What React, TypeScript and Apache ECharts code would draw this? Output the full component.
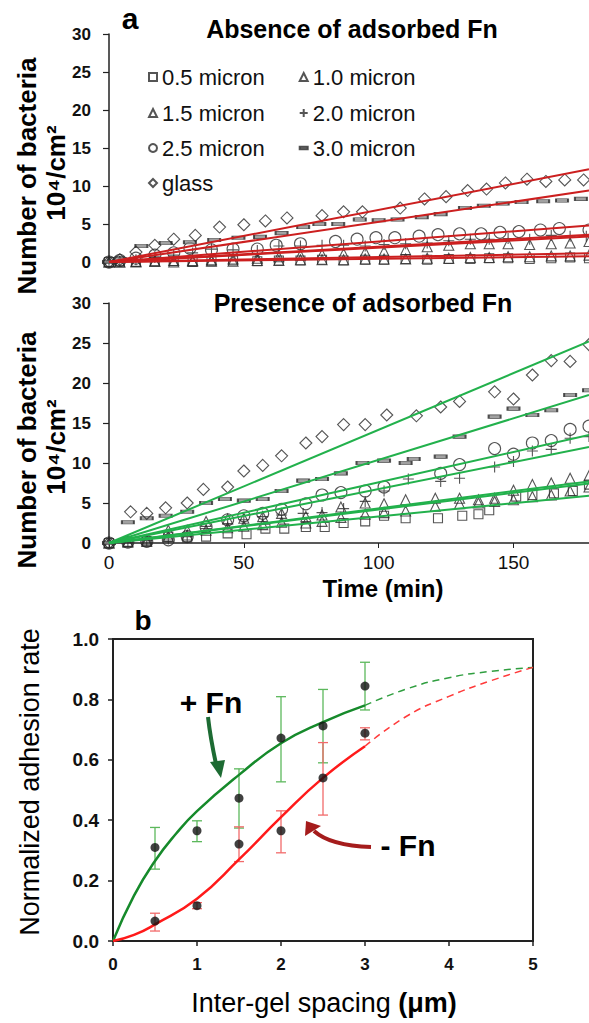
import React, { useEffect, useRef } from "react";
import * as echarts from "echarts";

const FONT = '"Liberation Sans", Arial, sans-serif';

// ---------- Panel a (top): absence of adsorbed Fn ----------
const absGlassT = [0, 4, 10, 17, 24, 32, 41, 50, 58, 66, 79, 87, 94, 108, 117, 125, 133, 140, 147, 155, 162, 169, 176];
const absGlassV = [0, 0.3, 1.3, 2.2, 3.0, 3.5, 4.6, 4.9, 5.4, 5.8, 6.1, 6.6, 6.6, 7.1, 8.3, 8.6, 9.4, 9.6, 10.4, 10.9, 10.6, 10.8, 10.8];
const abs30T = [0, 4, 12, 21, 30, 39, 48, 56, 64, 72, 78, 85, 93, 100, 107, 116, 123, 132, 139, 146, 153, 161, 168, 175];
const abs30V = [0, 0.4, 2.1, 2.5, 2.6, 2.9, 3.2, 3.3, 3.8, 4.6, 5.0, 5.0, 5.6, 5.5, 5.6, 5.9, 6.3, 7.1, 7.4, 7.7, 7.9, 8.0, 8.1, 8.3];
const abs25T = [0, 4, 10, 17, 24, 30, 38, 46, 55, 62, 71, 84, 92, 99, 106, 115, 122, 130, 138, 145, 152, 160, 167, 178];
const abs25V = [0, 0.2, 0.5, 0.9, 1.2, 1.8, 1.6, 1.7, 1.7, 2.2, 2.4, 2.7, 3.0, 3.2, 3.2, 3.4, 3.6, 3.7, 3.7, 3.9, 4.0, 4.2, 4.4, 4.2];
const abs20T = [0, 4, 10, 17, 24, 31, 38, 46, 55, 63, 71, 79, 87, 95, 102, 110, 118, 126, 134, 141, 148, 156, 164, 171, 177];
const abs20V = [0, 0.1, 0.3, 0.6, 0.9, 1.2, 1.7, 1.6, 1.5, 2.1, 2.1, 2.2, 2.2, 2.1, 2.3, 2.4, 2.5, 2.8, 3.0, 3.0, 3.1, 3.0, 3.5, 3.4, 3.4];
const absLowT = [0, 4, 10, 17, 24, 31, 38, 46, 55, 63, 71, 79, 87, 95, 102, 110, 118, 126, 134, 141, 148, 156, 164, 171, 178];
const abs15V = [0, 0, 0.1, 0.1, 0.2, 0.2, 0.3, 0.4, 0.5, 0.7, 0.9, 1.0, 1.1, 1.3, 1.4, 1.6, 2.0, 2.2, 2.4, 2.4, 2.4, 2.3, 2.4, 2.5, 2.7];
const abs10V = [0, 0, 0, 0.1, 0, 0.1, 0.1, 0.1, 0.2, 0.2, 0.3, 0.3, 0.3, 0.4, 0.4, 0.4, 0.5, 0.5, 0.6, 0.6, 0.7, 0.7, 0.8, 0.8, 0.9];
const abs05V = [0, 0.1, 0, 0.1, 0.1, 0, 0.1, 0.2, 0.1, 0.2, 0.2, 0.3, 0.2, 0.3, 0.3, 0.4, 0.3, 0.4, 0.4, 0.5, 0.5, 0.4, 0.5, 0.6, 0.5];
// fitted lines: value reached at end time
const fitEndT = 178;
const absFitEnd = { glass: 12.2, s30: 9.4, s25: 4.8, s20: 3.6, s15: 3.35, s10: 1.15, s05: 0.75 };

// ---------- Panel a (middle): presence of adsorbed Fn ----------
const preGlassT = [0, 8, 14, 21, 29, 35, 44, 50, 57, 64, 73, 79, 87, 95, 103, 114, 123, 130, 143, 150, 157, 164, 171, 178];
const preGlassV = [0, 3.9, 3.7, 4.4, 5.0, 6.7, 7.0, 9.0, 9.7, 10.9, 12.5, 13.3, 14.8, 14.8, 16.0, 15.9, 17.0, 17.7, 18.9, 18.0, 21.0, 22.8, 22.7, 24.8];
const pre30T = [0, 7, 14, 21, 29, 36, 43, 50, 57, 64, 72, 79, 86, 94, 102, 110, 113, 123, 130, 143, 150, 157, 164, 171, 178];
const pre30V = [0, 2.6, 3.1, 3.4, 3.9, 5.0, 5.5, 5.3, 5.5, 6.5, 7.8, 8.0, 8.7, 10.0, 10.3, 10.0, 10.5, 10.8, 13.3, 15.8, 16.8, 16.0, 16.6, 18.5, 19.1];
const pre25T = [0, 7, 14, 22, 29, 36, 44, 50, 57, 64, 73, 79, 86, 95, 102, 123, 130, 143, 150, 157, 164, 171, 178];
const pre25V = [0, 0.1, 0.2, 0.4, 0.8, 2.0, 2.9, 3.4, 3.7, 4.2, 4.9, 6.0, 6.3, 6.5, 7.0, 8.7, 9.8, 11.8, 11.1, 12.5, 12.8, 14.2, 14.6];
const pre20T = [0, 7, 14, 22, 29, 36, 44, 50, 57, 64, 72, 79, 87, 95, 102, 111, 123, 130, 143, 150, 157, 164, 171, 178];
const pre20V = [0, 0.1, 0.3, 0.5, 0.8, 1.8, 2.4, 2.9, 3.3, 3.5, 3.7, 3.8, 4.3, 5.2, 6.5, 8.0, 7.7, 8.1, 9.5, 10.2, 11.5, 11.7, 13.1, 13.3];
const preTriT = [0, 7, 14, 22, 29, 36, 44, 50, 57, 64, 73, 79, 86, 95, 102, 110, 121, 130, 137, 143, 150, 157, 164, 171, 178];
const pre15V = [0, 0.2, 0.4, 1.6, 1.6, 2.7, 3.0, 3.1, 3.3, 3.7, 3.3, 3.5, 4.5, 5.0, 4.9, 5.4, 5.6, 5.6, 5.4, 5.6, 6.6, 7.3, 7.5, 8.1, 8.4];
const pre10V = [0, 0.1, 0.2, 0.8, 1.0, 1.6, 1.9, 2.1, 2.3, 2.6, 2.5, 2.7, 3.2, 3.6, 3.8, 4.0, 4.6, 4.9, 5.0, 5.2, 5.4, 5.8, 6.0, 6.5, 7.0];
const pre05T = [0, 7, 14, 22, 29, 36, 44, 51, 58, 65, 73, 80, 87, 95, 102, 110, 122, 131, 137, 141, 151, 157, 165, 172, 178];
const pre05V = [0, 0.1, 0.2, 0.8, 0.7, 0.8, 1.2, 1.1, 1.8, 1.8, 2.0, 2.0, 2.5, 2.7, 3.4, 3.1, 3.1, 3.4, 3.6, 4.1, 5.8, 6.0, 6.2, 6.5, 7.3];
const preFitEnd = { glass: 25.2, s30: 18.5, s25: 13.5, s20: 12.0, s15: 7.7, s10: 7.45, s05: 5.9 };

const timeTicks = [0, 50, 100, 150];
const countTicks = [0, 5, 10, 15, 20, 25, 30];

// ---------- Panel b ----------
const spacing = [0.5, 1, 1.5, 2, 2.5, 3];
const plusFnRate = [0.31, 0.365, 0.473, 0.672, 0.712, 0.844];
const plusFnLow = [0.238, 0.329, 0.374, 0.527, 0.59, 0.765];
const plusFnHigh = [0.376, 0.398, 0.57, 0.809, 0.833, 0.923];
const minusFnRate = [0.066, 0.117, 0.321, 0.365, 0.54, 0.688];
const minusFnLow = [0.033, 0.107, 0.263, 0.292, 0.417, 0.666];
const minusFnHigh = [0.092, 0.127, 0.378, 0.431, 0.657, 0.706];
const plusFitX = [0, 0.25, 0.5, 0.75, 1, 1.5, 2, 2.5, 3];
const plusFitY = [0, 0.15, 0.265, 0.355, 0.43, 0.55, 0.655, 0.725, 0.78];
const plusExtX = [3, 3.5, 4, 4.5, 5];
const plusExtY = [0.78, 0.835, 0.872, 0.893, 0.906];
const minusFitX = [0, 0.25, 0.5, 1, 1.5, 2, 2.5, 3];
const minusFitY = [0, 0.02, 0.055, 0.14, 0.27, 0.41, 0.54, 0.645];
const minusExtX = [3, 3.5, 4, 4.5, 5];
const minusExtY = [0.645, 0.745, 0.81, 0.862, 0.906];

const zip = (a: number[], b: number[]) => a.map((v, i) => [v, b[i]]);

const RED = "#cc1f1f";
const GREEN = "#22b14c";
const MK = "#2a2a2a";
const PLUS_PATH = "path://M5,0 L5,10 M0,5 L10,5";

const markers: Record<string, any> = {
  "0.5 micron": { symbol: "rect", symbolSize: 9 },
  "1.0 micron": { symbol: "triangle", symbolSize: 10 },
  "1.5 micron": { symbol: "triangle", symbolSize: 10 },
  "2.0 micron": { symbol: PLUS_PATH, symbolSize: 11 },
  "2.5 micron": { symbol: "circle", symbolSize: 12 },
  "3.0 micron": { symbol: "rect", symbolSize: [12, 3.5] },
  glass: { symbol: "diamond", symbolSize: 12 },
};

function scatter(name: string, t: number[], v: number[], idx: number) {
  const m = markers[name];
  const filled = name === "3.0 micron";
  return {
    type: "scatter",
    name,
    xAxisIndex: idx,
    yAxisIndex: idx,
    symbol: m.symbol,
    symbolSize: m.symbolSize,
    itemStyle: {
      color: filled ? "#8a8a8a" : "rgba(255,255,255,0)",
      borderColor: MK,
      borderWidth: 1.1,
    },
    data: zip(t, v),
    z: 2,
  };
}

function fitLine(end: number, idx: number, color: string) {
  return {
    type: "line",
    xAxisIndex: idx,
    yAxisIndex: idx,
    symbol: "none",
    silent: true,
    lineStyle: { color, width: 2 },
    data: [
      [0, 0],
      [fitEndT, end],
    ],
    z: 3,
  };
}

function errorBars(name: string, lo: number[], hi: number[], color: string) {
  return {
    type: "custom",
    name,
    xAxisIndex: 2,
    yAxisIndex: 2,
    data: spacing.map((x, i) => [x, lo[i], hi[i]]),
    encode: { x: 0, y: [1, 2] },
    renderItem: (params: any, api: any) => {
      const x = api.value(0);
      const a = api.coord([x, api.value(1)]);
      const b = api.coord([x, api.value(2)]);
      const w = 5;
      const st = { stroke: color, lineWidth: 1.3 };
      return {
        type: "group",
        children: [
          { type: "line", shape: { x1: a[0], y1: a[1], x2: b[0], y2: b[1] }, style: st },
          { type: "line", shape: { x1: a[0] - w, y1: a[1], x2: a[0] + w, y2: a[1] }, style: st },
          { type: "line", shape: { x1: b[0] - w, y1: b[1], x2: b[0] + w, y2: b[1] }, style: st },
        ],
      };
    },
    z: 2,
  };
}

function txt(x: number, y: number, text: string, size: number, weight = "normal", extra: any = {}, rotation = 0) {
  return {
    type: "text",
    x,
    y,
    rotation,
    style: {
      text,
      fontSize: size,
      fontWeight: weight,
      fontFamily: FONT,
      fill: "#000",
      align: "center",
      verticalAlign: "middle",
      textAlign: "center",
      textVerticalAlign: "middle",
      ...extra,
    },
    z: 10,
  };
}

function legendRow(names: any[], top: number) {
  return {
    data: names,
    left: 148,
    top,
    padding: 0,
    itemGap: 34,
    itemWidth: 8,
    itemHeight: 8,
    selectedMode: false,
    textStyle: { fontSize: 22, fontFamily: FONT, color: "#111" },
  };
}

const countAxis = (gridIndex: number) => ({
  type: "value",
  gridIndex,
  min: 0,
  max: 30,
  interval: 5,
  axisLine: { show: true, lineStyle: { color: "#222", width: 1.5 } },
  axisTick: { show: true, inside: false, length: 6, lineStyle: { color: "#222", width: 1.2 } },
  axisLabel: {
    fontSize: 17,
    fontWeight: "bold",
    fontFamily: FONT,
    color: "#111",
    margin: 18,
    formatter: (v: number) => (countTicks.includes(v) ? String(v) : ""),
  },
  splitLine: { show: false },
});

export default function App() {
  const ref = useRef<HTMLDivElement>(null);
  useEffect(() => {
    document.body.style.margin = "0";
    const chart = echarts.init(ref.current!, undefined, { renderer: "svg" });
    const option: any = {
      animation: false,
      backgroundColor: "#fff",
      textStyle: { fontFamily: FONT },
      grid: [
        { left: 109, top: 34, width: 480, height: 228 },
        { left: 109, top: 303, width: 480, height: 240 },
        { left: 113, top: 639, width: 420, height: 302, show: true, borderColor: "#222", borderWidth: 2, backgroundColor: "transparent" },
      ],
      legend: [
        legendRow(["0.5 micron", "1.0 micron"], 66),
        legendRow(["1.5 micron", "2.0 micron"], 102),
        legendRow(["2.5 micron", { name: "3.0 micron", icon: "path://M0,0 M10,10 M0,3.3 L10,3.3 L10,6.7 L0,6.7 Z" }], 137),
        legendRow(["glass"], 172),
      ],
      xAxis: [
        { type: "value", gridIndex: 0, min: 0, max: 178, interval: 50, show: false },
        {
          type: "value",
          gridIndex: 1,
          min: 0,
          max: 178,
          interval: 50,
          axisLine: { show: true, lineStyle: { color: "#222", width: 1.5 } },
          axisTick: { show: true, length: 5, lineStyle: { color: "#222" } },
          axisLabel: {
            fontSize: 19,
            fontFamily: FONT,
            color: "#111",
            margin: 10,
            showMaxLabel: false,
            formatter: (v: number) => (timeTicks.includes(v) ? String(v) : ""),
          },
          splitLine: { show: false },
        },
        {
          type: "value",
          gridIndex: 2,
          min: 0,
          max: 5,
          interval: 1,
          axisLine: { show: true, lineStyle: { color: "#222", width: 2 } },
          axisTick: { show: true, length: 5, lineStyle: { color: "#222", width: 1.5 } },
          axisLabel: { fontSize: 17, fontWeight: "bold", fontFamily: FONT, color: "#111", margin: 15 },
          splitLine: { show: false },
        },
      ],
      yAxis: [
        countAxis(0),
        countAxis(1),
        {
          type: "value",
          gridIndex: 2,
          min: 0,
          max: 1,
          interval: 0.2,
          axisLine: { show: true, lineStyle: { color: "#222", width: 2 } },
          axisTick: { show: true, length: 5, lineStyle: { color: "#222", width: 1.5 } },
          axisLabel: {
            fontSize: 19,
            fontWeight: "bold",
            fontFamily: FONT,
            color: "#111",
            margin: 14,
            formatter: (v: number) => v.toFixed(1),
          },
          splitLine: { show: false },
        },
      ],
      series: [
        scatter("0.5 micron", absLowT, abs05V, 0),
        scatter("1.0 micron", absLowT, abs10V, 0),
        scatter("1.5 micron", absLowT, abs15V, 0),
        scatter("2.0 micron", abs20T, abs20V, 0),
        scatter("2.5 micron", abs25T, abs25V, 0),
        scatter("3.0 micron", abs30T, abs30V, 0),
        scatter("glass", absGlassT, absGlassV, 0),
        fitLine(absFitEnd.glass, 0, RED),
        fitLine(absFitEnd.s30, 0, RED),
        fitLine(absFitEnd.s25, 0, RED),
        fitLine(absFitEnd.s20, 0, RED),
        fitLine(absFitEnd.s15, 0, RED),
        fitLine(absFitEnd.s10, 0, RED),
        fitLine(absFitEnd.s05, 0, RED),

        scatter("0.5 micron", pre05T, pre05V, 1),
        scatter("1.0 micron", preTriT, pre10V, 1),
        scatter("1.5 micron", preTriT, pre15V, 1),
        scatter("2.0 micron", pre20T, pre20V, 1),
        scatter("2.5 micron", pre25T, pre25V, 1),
        scatter("3.0 micron", pre30T, pre30V, 1),
        scatter("glass", preGlassT, preGlassV, 1),
        fitLine(preFitEnd.glass, 1, GREEN),
        fitLine(preFitEnd.s30, 1, GREEN),
        fitLine(preFitEnd.s25, 1, GREEN),
        fitLine(preFitEnd.s20, 1, GREEN),
        fitLine(preFitEnd.s15, 1, GREEN),
        fitLine(preFitEnd.s10, 1, GREEN),
        fitLine(preFitEnd.s05, 1, GREEN),

        errorBars("+Fn error", plusFnLow, plusFnHigh, "#5cb85c"),
        errorBars("-Fn error", minusFnLow, minusFnHigh, "#f26a6a"),
        {
          type: "line", name: "+Fn fit", xAxisIndex: 2, yAxisIndex: 2, smooth: true, symbol: "none",
          lineStyle: { color: "#168a2b", width: 2.5 }, data: zip(plusFitX, plusFitY), z: 3,
        },
        {
          type: "line", name: "+Fn extrapolation", xAxisIndex: 2, yAxisIndex: 2, smooth: true, symbol: "none",
          lineStyle: { color: "#2f9e3f", width: 1.5, type: [7, 5] }, data: zip(plusExtX, plusExtY), z: 3,
        },
        {
          type: "line", name: "-Fn fit", xAxisIndex: 2, yAxisIndex: 2, smooth: true, symbol: "none",
          lineStyle: { color: "#ff1a1a", width: 2.5 }, data: zip(minusFitX, minusFitY), z: 3,
        },
        {
          type: "line", name: "-Fn extrapolation", xAxisIndex: 2, yAxisIndex: 2, smooth: true, symbol: "none",
          lineStyle: { color: "#ff3b3b", width: 1.5, type: [7, 5] }, data: zip(minusExtX, minusExtY), z: 3,
        },
        {
          type: "scatter", name: "+Fn", xAxisIndex: 2, yAxisIndex: 2, symbol: "circle", symbolSize: 9,
          itemStyle: { color: "#111" }, data: zip(spacing, plusFnRate), z: 5,
        },
        {
          type: "scatter", name: "-Fn", xAxisIndex: 2, yAxisIndex: 2, symbol: "circle", symbolSize: 9,
          itemStyle: { color: "#111" }, data: zip(spacing, minusFnRate), z: 5,
        },
      ],
      graphic: [
        txt(130, 18, "a", 30, "bold"),
        txt(352, 29, "Absence of adsorbed Fn", 25, "bold"),
        txt(363, 303, "Presence of adsorbed Fn", 25, "bold"),
        txt(27, 176, "Number of bacteria", 26, "bold", {}, Math.PI / 2),
        txt(56, 173, "10⁴/cm²", 26, "bold", {}, Math.PI / 2),
        txt(27, 450, "Number of bacteria", 26, "bold", {}, Math.PI / 2),
        txt(56, 447, "10⁴/cm²", 26, "bold", {}, Math.PI / 2),
        txt(383, 588, "Time (min)", 24, "bold"),
        txt(143, 620, "b", 28, "bold"),
        txt(30, 782, "Normalized adhesion rate", 27, "normal", {}, Math.PI / 2),
        txt(324, 1003, "Inter-gel spacing {b|(μm)}", 27, "normal", {
          rich: { b: { fontSize: 27, fontWeight: "bold", fontFamily: FONT, fill: "#000" } },
        }),
        txt(211, 702, "+ Fn", 30, "bold"),
        txt(408, 845, "- Fn", 30, "bold"),
        {
          type: "bezierCurve",
          shape: { x1: 208, y1: 717, cpx1: 210, cpy1: 735, cpx2: 213, cpy2: 750, x2: 216, y2: 764 },
          style: { stroke: "#1d6b33", lineWidth: 4, fill: "none" },
          z: 10,
        },
        {
          type: "polygon",
          shape: { points: [[221, 778], [210, 762], [225, 760]] },
          style: { fill: "#1d6b33" },
          z: 10,
        },
        {
          type: "bezierCurve",
          shape: { x1: 371, y1: 847, cpx1: 342, cpy1: 846, cpx2: 324, cpy2: 840, x2: 314, y2: 831 },
          style: { stroke: "#a51c1c", lineWidth: 4, fill: "none" },
          z: 10,
        },
        {
          type: "polygon",
          shape: { points: [[306, 821], [305, 836], [321, 826]] },
          style: { fill: "#a51c1c" },
          z: 10,
        },
      ],
    };
    chart.setOption(option);
    return () => chart.dispose();
  }, []);
  return <div ref={ref} style={{ width: 589, height: 1023 }} />;
}
